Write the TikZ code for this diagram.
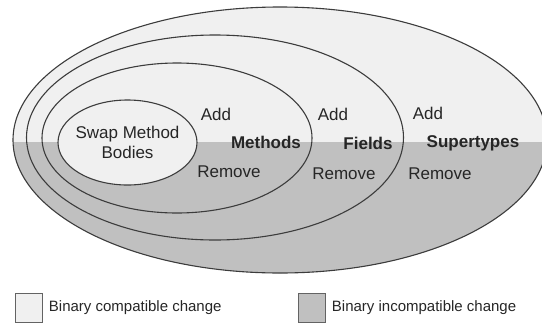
\documentclass[tikz,border=0pt]{standalone}
\usepackage{fontspec}
\setmainfont{Liberation Sans}
\usetikzlibrary{shapes.geometric}
\definecolor{compat}{HTML}{F0F0F0}
\definecolor{incompat}{HTML}{C0C0C0}
\definecolor{rim}{HTML}{3C3C3C}

\begin{document}
\begin{tikzpicture}[x=1pt, y=-1pt,
    ring/.style={ellipse, draw=rim, line width=1.1pt, inner sep=0pt},
    word/.style={font=\fontsize{17}{20}\selectfont, text=black!85},
    kind/.style={word, font=\fontsize{17}{20}\selectfont\bfseries},
    swatch/.style={draw=rim!80, line width=0.8pt, minimum width=27pt, minimum height=29pt, inner sep=0pt},
    legend/.style={font=\fontsize{15}{18}\selectfont, text=black!85, anchor=west}]
    \useasboundingbox (0,0) rectangle (542,325);
    % two halves of the big ellipse
    \fill[compat] (280,140) ellipse (267 and 133);
    \begin{scope}
        \clip (280,140) ellipse (267 and 133);
        \fill[incompat] (0,142) rectangle (560,280);
    \end{scope}
    % nested rings
    \node[ring, minimum width=534pt, minimum height=266pt] (supertypes) at (280,140) {};
    \node[ring, minimum width=377pt, minimum height=205pt] (fields) at (215,137.5) {};
    \node[ring, minimum width=270pt, minimum height=150pt] (methods) at (177,138) {};
    \node[ring, fill=compat, minimum width=139pt, minimum height=85pt, align=center] (swap) at (127.5,142.5) {};
    \node[word, align=center] (swaptext) at (swap.center) {Swap Method\\Bodies};
    % labels
    \node[word] (addm) at (216,114) {Add};
    \node[kind] (methodsl) at (266,142) {Methods};
    \node[word] (remm) at (229,172) {Remove};
    \node[word] (addf) at (333,114) {Add};
    \node[kind] (fieldsl) at (368,143) {Fields};
    \node[word] (remf) at (344,174) {Remove};
    \node[word] (adds) at (428,113) {Add};
    \node[kind] (supertypesl) at (473,143) {Supertypes};
    \node[word] (rems) at (440,174) {Remove};
    % legend
    \node[swatch, fill=compat] (boxc) at (28.5,308) {};
    \node[legend] (textc) at ([xshift=3pt]boxc.east) {Binary compatible change};
    \node[swatch, fill=incompat] (boxi) at (311.5,308) {};
    \node[legend] (texti) at ([xshift=3pt]boxi.east) {Binary incompatible change};
\end{tikzpicture}
\end{document}
